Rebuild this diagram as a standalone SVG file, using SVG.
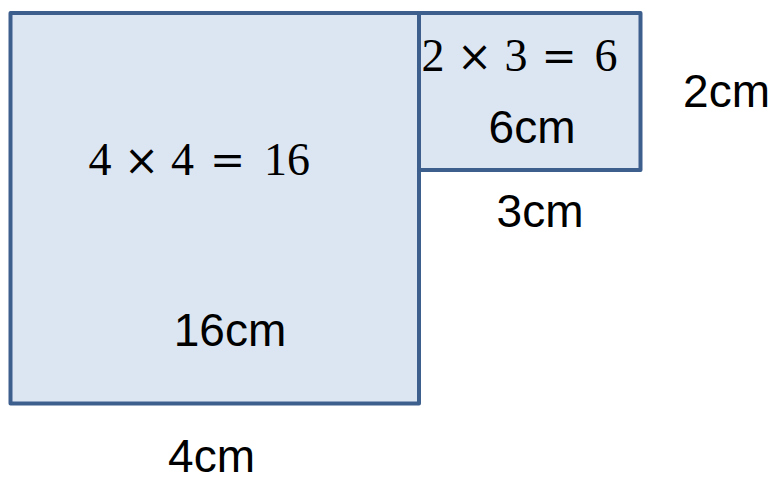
<svg xmlns="http://www.w3.org/2000/svg" width="774" height="478" viewBox="0 0 774 478">
<style>
.box{fill:#DCE6F2;stroke:#3D5F8E;stroke-width:4;stroke-linejoin:round}
.sans{font-family:"Liberation Sans",Arial,sans-serif;font-size:46px;fill:#000;text-anchor:middle}
.math{font-family:"Liberation Serif","Times New Roman",serif;font-size:46px;fill:#000;text-anchor:middle}
.op{font-family:"DejaVu Serif",serif;font-size:42px}
</style>
<rect width="774" height="478" fill="#fff"/>
<g id="big-square">
<rect class="box" x="10.5" y="13" width="408.5" height="390.5"/>
<text class="math" y="175"><tspan x="100">4</tspan><tspan class="op" x="141.5">×</tspan><tspan x="182.5">4</tspan><tspan class="op" x="227.5">=</tspan><tspan x="287">16</tspan></text>
<text class="sans" x="230" y="346">16cm</text>
</g>
<g id="small-rect">
<rect class="box" x="419" y="13" width="221.5" height="157"/>
<text class="math" y="71"><tspan x="433">2</tspan><tspan class="op" x="474.5">×</tspan><tspan x="516">3</tspan><tspan class="op" x="559">=</tspan><tspan x="606">6</tspan></text>
<text class="sans" x="532" y="143">6cm</text>
</g>
<g id="labels">
<text class="sans" x="726.5" y="107">2cm</text>
<text class="sans" x="540" y="227">3cm</text>
<text class="sans" x="211.5" y="472">4cm</text>
</g>
<g id="connectors"></g>
</svg>
